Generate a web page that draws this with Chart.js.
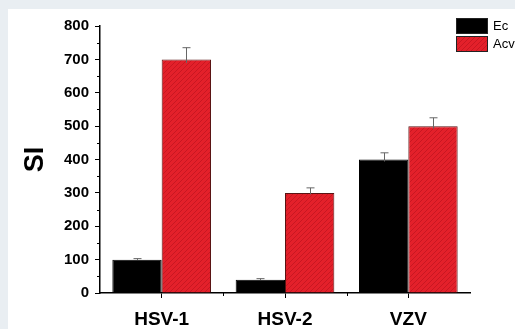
<!DOCTYPE html>
<html>
<head>
<meta charset="utf-8">
<script src="https://cdn.jsdelivr.net/npm/chart.js@4"></script>
<style>
  html, body { margin: 0; padding: 0; background: #e9eef2; overflow: hidden; }
  #panel { position: absolute; left: 8px; top: 9px; width: 507px; height: 320px; background: #fff; }
  canvas { display: block; }
</style>
</head>
<body>
<div id="panel"><canvas id="chart1" width="507" height="320"></canvas></div>
<script>
const categories = ['HSV-1', 'HSV-2', 'VZV'];
const ecValues = [100, 40, 400];
const acvValues = [700, 300, 500];
const ecErrors = [3, 3, 20];
const acvErrors = [35, 15, 25];
const yTicks = [0, 100, 200, 300, 400, 500, 600, 700, 800];

const FONT = '"Liberation Sans", Arial, sans-serif';

// hatched red fill like the original
function makeHatch() {
    const c = document.createElement('canvas');
    c.width = 5; c.height = 5;
    const g = c.getContext('2d');
    g.fillStyle = '#e3202a';
    g.fillRect(0, 0, 5, 5);
    g.strokeStyle = 'rgba(150,10,20,0.35)';
    g.lineWidth = 1;
    g.beginPath();
    g.moveTo(0, 5); g.lineTo(5, 0);
    g.moveTo(-1, 1); g.lineTo(1, -1);
    g.moveTo(4, 6); g.lineTo(6, 4);
    g.stroke();
    return g.createPattern(c, 'repeat');
}

// error bars, minor ticks and legend
const extrasPlugin = {
    id: 'extras',
    afterDatasetsDraw(chart) {
        const ctx = chart.ctx;
        const y = chart.scales.y;
        ctx.save();
        ctx.strokeStyle = '#666';
        ctx.lineWidth = 1;
        chart.data.datasets.forEach((ds, di) => {
            const meta = chart.getDatasetMeta(di);
            meta.data.forEach((bar, i) => {
                const top = y.getPixelForValue(ds.data[i] + ds.errors[i]);
                const base = y.getPixelForValue(ds.data[i] - ds.errors[i] * 0.3);
                const x = Math.round(bar.x) + 0.5;
                ctx.beginPath();
                ctx.moveTo(x, base);
                ctx.lineTo(x, top);
                ctx.moveTo(x - 4, top);
                ctx.lineTo(x + 4, top);
                ctx.stroke();
            });
        });
        ctx.restore();
    },
    afterDraw(chart) {
        const ctx = chart.ctx;
        const x = chart.scales.x;
        const y = chart.scales.y;
        ctx.save();
        ctx.strokeStyle = '#000';
        ctx.lineWidth = 1;
        ctx.beginPath();
        for (let v = 50; v < 800; v += 100) {
            const py = Math.round(y.getPixelForValue(v)) + 0.5;
            ctx.moveTo(y.right - 3, py);
            ctx.lineTo(y.right, py);
        }
        for (let i = 0; i < categories.length - 1; i++) {
            const px = Math.round((x.getPixelForValue(i) + x.getPixelForValue(i + 1)) / 2) + 0.5;
            ctx.moveTo(px, x.top);
            ctx.lineTo(px, x.top + 3);
        }
        ctx.stroke();

        // legend
        const items = [
            { label: 'Ec', color: '#000' },
            { label: 'Acv', color: chart.data.datasets[1].backgroundColor }
        ];
        ctx.font = '13px ' + FONT;
        ctx.textBaseline = 'middle';
        items.forEach((it, i) => {
            const ly = 9 + i * 18;
            ctx.fillStyle = it.color;
            ctx.fillRect(448, ly, 32, 16);
            ctx.strokeStyle = '#222';
            ctx.strokeRect(448.5, ly + 0.5, 31, 15);
            ctx.fillStyle = '#000';
            ctx.fillText(it.label, 485, ly + 8);
        });
        ctx.restore();
    }
};

const ctx = document.getElementById('chart1').getContext('2d');
const chart1 = new Chart(ctx, {
    type: 'bar',
    data: {
        labels: categories,
        datasets: [
            {
                label: 'Ec',
                data: ecValues,
                errors: ecErrors,
                backgroundColor: '#000',
                borderColor: '#000',
                borderWidth: 1
            },
            {
                label: 'Acv',
                data: acvValues,
                errors: acvErrors,
                backgroundColor: makeHatch(),
                borderColor: '#5a1414',
                borderWidth: 1
            }
        ]
    },
    options: {
        responsive: false,
        animation: false,
        devicePixelRatio: 1,
        categoryPercentage: 0.8,
        barPercentage: 1,
        layout: {
            padding: { top: 17, right: 45, left: 0, bottom: 0 }
        },
        scales: {
            x: {
                offset: true,
                grid: {
                    offset: false,
                    drawOnChartArea: false,
                    drawTicks: true,
                    tickLength: 5,
                    color: '#000'
                },
                border: { display: true, color: '#000', width: 1.5 },
                ticks: {
                    color: '#000',
                    padding: 10,
                    font: { family: FONT, size: 19, weight: 'bold' }
                },
                afterFit: function(scale) { scale.height = 36; }
            },
            y: {
                min: 0,
                max: 800,
                afterBuildTicks: function(scale) {
                    scale.ticks = yTicks.map(v => ({ value: v }));
                },
                grid: {
                    drawOnChartArea: false,
                    drawTicks: true,
                    tickLength: 5,
                    color: '#000'
                },
                border: { display: true, color: '#000', width: 1.5 },
                ticks: {
                    color: '#000',
                    padding: 6,
                    font: { family: FONT, size: 15, weight: 'bold' }
                },
                title: {
                    display: true,
                    text: 'SI',
                    color: '#000',
                    padding: { top: 11, bottom: 0 },
                    font: { family: FONT, size: 27, weight: 'bold' }
                },
                afterFit: function(scale) { scale.width = 92; }
            }
        },
        plugins: {
            legend: { display: false },
            tooltip: { enabled: false }
        }
    },
    plugins: [extrasPlugin]
});
</script>
</body>
</html>
